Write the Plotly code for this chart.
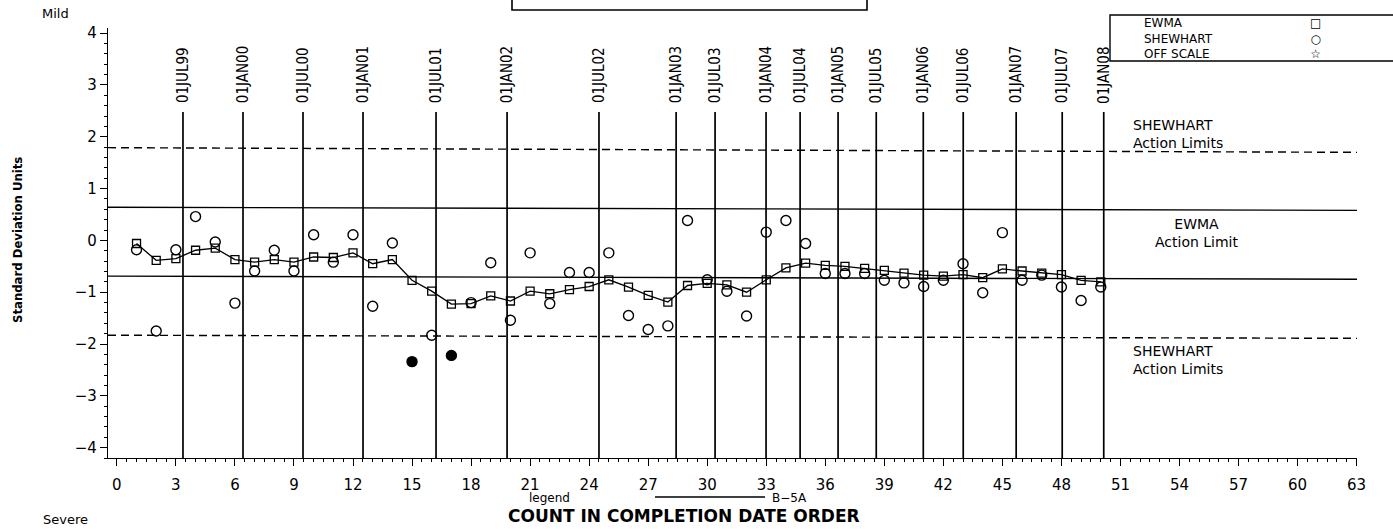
import plotly.graph_objects as go

# ---------------- data ----------------
counts = list(range(1, 51))
ewma = [-0.06, -0.385, -0.35, -0.19, -0.15, -0.37, -0.42, -0.37, -0.42, -0.32,
        -0.33, -0.24, -0.45, -0.37, -0.77, -0.98, -1.23, -1.22, -1.07, -1.17,
        -0.98, -1.03, -0.95, -0.89, -0.76, -0.90, -1.06, -1.19, -0.87, -0.83,
        -0.86, -1.00, -0.76, -0.53, -0.44, -0.48, -0.50, -0.54, -0.58, -0.63,
        -0.67, -0.69, -0.66, -0.72, -0.55, -0.59, -0.63, -0.66, -0.77, -0.80]
shewhart = [-0.18, -1.75, -0.18, 0.46, -0.03, -1.21, -0.59, -0.19, -0.59, 0.11,
            -0.42, 0.11, -1.27, -0.05, -2.34, -1.83, -2.22, -1.20, -0.43, -1.54,
            -0.24, -1.22, -0.62, -0.62, -0.24, -1.45, -1.72, -1.65, 0.385, -0.76,
            -0.98, -1.46, 0.16, 0.385, -0.06, -0.64, -0.64, -0.64, -0.77, -0.82,
            -0.89, -0.77, -0.45, -1.01, 0.15, -0.77, -0.67, -0.90, -1.16, -0.90]
shewhart_signal = [15, 17]          # counts drawn as filled markers

date_labels = ["01JUL99", "01JAN00", "01JUL00", "01JAN01", "01JUL01", "01JAN02",
               "01JUL02", "01JAN03", "01JUL03", "01JAN04", "01JUL04", "01JAN05",
               "01JUL05", "01JAN06", "01JUL06", "01JAN07", "01JUL07", "01JAN08"]
date_counts = [3.36, 6.41, 9.46, 12.51, 16.22, 19.83, 24.50, 28.42, 30.40, 32.99,
               34.72, 36.65, 38.59, 40.98, 43.01, 45.70, 48.04, 50.15]

# limits (left end, right end)
shewhart_upper = (1.79, 1.70)
shewhart_lower = (-1.83, -1.89)
ewma_upper = (0.64, 0.58)
ewma_lower = (-0.69, -0.75)

x_ticks = list(range(0, 64, 3))
y_ticks = [-4, -3, -2, -1, 0, 1, 2, 3, 4]
y_ticktext = ["\u22124", "\u22123", "\u22122", "\u22121", "0", "1", "2", "3", "4"]

legend_names = ["EWMA", "SHEWHART", "OFF SCALE"]
legend_symbols = ["\u25a1", "\u25cb", "\u2606"]

# ---------------- figure ----------------
XMIN, XMAX = -0.45, 63.02
YMIN, YMAX = -4.2, 4.1
W, H = 1393, 529
ML, MR, MT, MB = 108, 36, 28, 71
PW, PH = W - ML - MR, H - MT - MB


def px(xp):
    return (xp - ML) / PW


def py(yp):
    return (H - MB - yp) / PH


FONT = "DejaVu Sans, Verdana, sans-serif"
NARROW = "Liberation Sans Narrow, Arial Narrow, DejaVu Sans Condensed, sans-serif"

fig = go.Figure()

# EWMA
fig.add_trace(go.Scatter(
    x=counts, y=ewma, mode="lines+markers", name="EWMA",
    line=dict(color="black", width=1.3),
    marker=dict(symbol="square-open", size=8, color="black", line=dict(width=1.3)),
))

# Shewhart
sym = ["circle" if c in shewhart_signal else "circle-open" for c in counts]
fig.add_trace(go.Scatter(
    x=counts, y=shewhart, mode="markers", name="SHEWHART",
    marker=dict(symbol=sym, size=10, color="black", line=dict(width=1.4, color="black")),
))

shapes = []
for (yl, yr), dash in [(shewhart_upper, "8px,5px"), (shewhart_lower, "8px,5px"),
                       (ewma_upper, "solid"), (ewma_lower, "solid")]:
    shapes.append(dict(type="line", xref="x", yref="y", x0=XMIN, x1=XMAX, y0=yl, y1=yr,
                       line=dict(color="black", width=1.4, dash=dash)))

annotations = []
for lab, xc in zip(date_labels, date_counts):
    shapes.append(dict(type="line", xref="x", yref="y", x0=xc, x1=xc, y0=YMIN, y1=2.48,
                       line=dict(color="black", width=1.7)))
    annotations.append(dict(x=xc, y=3.19, xref="x", yref="y", text=lab, showarrow=False,
                            textangle=-90, font=dict(family=NARROW, size=15, color="black")))

# top clipped title box
shapes.append(dict(type="path", xref="paper", yref="paper",
                   path=f"M {px(512)} {py(-2)} L {px(512)} {py(10)} L {px(867)} {py(10)} L {px(867)} {py(-2)}",
                   line=dict(color="black", width=1.6)))

# legend box (top right)
shapes.append(dict(type="path", xref="paper", yref="paper",
                   path=f"M {px(1396)} {py(15)} L {px(1110)} {py(15)} L {px(1110)} {py(61)} L {px(1396)} {py(61)}",
                   line=dict(color="black", width=1.4)))
annotations.append(dict(x=px(1142), y=py(39), xref="paper", yref="paper",
                        text="<br>".join(legend_names), align="left",
                        showarrow=False, xanchor="left", yanchor="middle",
                        font=dict(family=FONT, size=12, color="black")))
annotations.append(dict(x=px(1315), y=py(39), xref="paper", yref="paper",
                        text="<br>".join(legend_symbols), align="center",
                        showarrow=False, xanchor="center", yanchor="middle",
                        font=dict(family=FONT, size=12, color="black")))

# right-side limit labels
for t, xx, yy, anc in [("SHEWHART<br>Action Limits", 1131, 134, "left"),
                       ("EWMA<br>Action Limit", 1197, 233, "center"),
                       ("SHEWHART<br>Action Limits", 1131, 360, "left")]:
    annotations.append(dict(x=px(xx), y=py(yy), xref="paper", yref="paper", text=t,
                            showarrow=False, xanchor=anc, yanchor="middle", align=anc,
                            font=dict(family=FONT, size=14, color="black")))

# Mild / Severe
annotations.append(dict(x=px(40), y=py(14), xref="paper", yref="paper", text="Mild",
                        showarrow=False, xanchor="left", yanchor="middle",
                        font=dict(family=FONT, size=13, color="black")))
annotations.append(dict(x=px(41), y=py(519), xref="paper", yref="paper", text="Severe",
                        showarrow=False, xanchor="left", yanchor="middle",
                        font=dict(family=FONT, size=13, color="black")))

# bottom legend line
annotations.append(dict(x=px(527), y=py(498), xref="paper", yref="paper", text="legend",
                        showarrow=False, xanchor="left", yanchor="middle",
                        font=dict(family=FONT, size=12, color="black")))
shapes.append(dict(type="line", xref="paper", yref="paper", x0=px(655), x1=px(765),
                   y0=py(497), y1=py(497), line=dict(color="black", width=1.3)))
annotations.append(dict(x=px(770), y=py(498), xref="paper", yref="paper", text="B\u22125A",
                        showarrow=False, xanchor="left", yanchor="middle",
                        font=dict(family=FONT, size=12, color="black")))

# axis titles
annotations.append(dict(x=px(684), y=py(516), xref="paper", yref="paper",
                        text="<b>COUNT IN COMPLETION DATE ORDER</b>",
                        showarrow=False, xanchor="center", yanchor="middle",
                        font=dict(family=FONT, size=17, color="black")))
annotations.append(dict(x=px(18), y=py(240), xref="paper", yref="paper",
                        text="<b>Standard Deviation Units</b>", textangle=-90,
                        showarrow=False, xanchor="center", yanchor="middle",
                        font=dict(family=NARROW, size=13, color="black")))

fig.update_layout(
    width=W, height=H,
    margin=dict(l=ML, r=MR, t=MT, b=MB, autoexpand=False),
    paper_bgcolor="white", plot_bgcolor="white",
    showlegend=False,
    shapes=shapes, annotations=annotations,
    font=dict(family=FONT, size=14, color="black"),
)
fig.update_xaxes(
    range=[XMIN, XMAX], tickmode="array", tickvals=x_ticks,
    showgrid=False, zeroline=False, showline=True, linecolor="black", linewidth=1.4,
    ticks="outside", ticklen=7, tickwidth=1.3, tickcolor="black",
    ticklabelstandoff=6,
    minor=dict(tickmode="linear", tick0=0, dtick=0.5, ticks="outside", ticklen=3,
               tickcolor="black", tickwidth=1),
    tickfont=dict(family=FONT, size=15),
)
fig.update_yaxes(
    range=[YMIN, YMAX], tickmode="array", tickvals=y_ticks, ticktext=y_ticktext,
    showgrid=False, zeroline=False, showline=True, linecolor="black", linewidth=1.4,
    ticks="outside", ticklen=7, tickwidth=1.3, tickcolor="black",
    minor=dict(tickmode="linear", tick0=0, dtick=0.2, ticks="outside", ticklen=3,
               tickcolor="black", tickwidth=1),
    tickfont=dict(family=FONT, size=15),
)

fig.write_html("out.html", config={"displayModeBar": False},
               post_script="document.body.style.margin='0px';")
